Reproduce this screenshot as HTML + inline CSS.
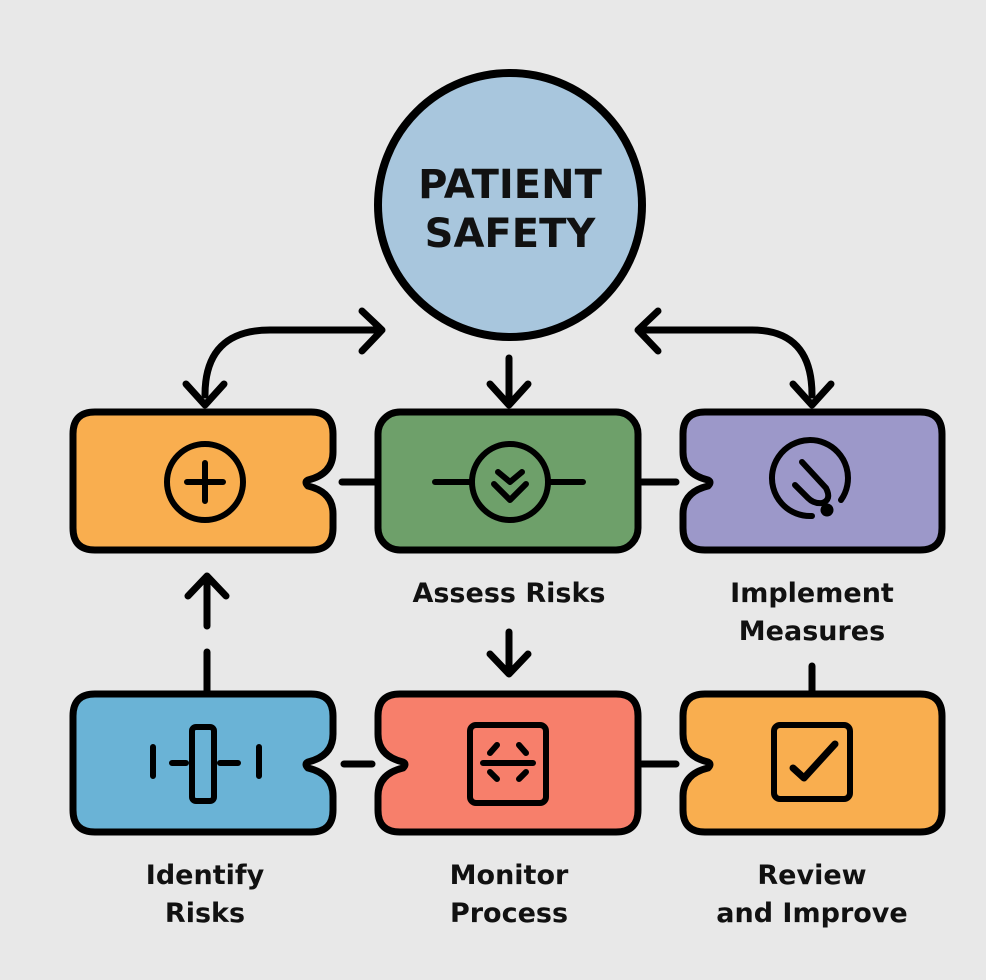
<!DOCTYPE html>
<html><head><meta charset="utf-8"><style>
html,body{margin:0;padding:0;background:#e8e8e8;}
svg{display:block}
text{font-family:"DejaVu Sans","Liberation Sans",sans-serif;font-weight:bold;fill:#111;text-anchor:middle}
</style></head><body>
<svg width="986" height="980" viewBox="0 0 986 980" xmlns="http://www.w3.org/2000/svg">
<rect width="986" height="980" fill="#e8e8e8"/>
<g stroke="#000" stroke-width="7" stroke-linecap="round" stroke-linejoin="round" fill="none">
<circle cx="510" cy="205" r="132" fill="#a8c6dd" stroke-width="8"/>
<path d="M380 330 H270 Q205 330 205 395"/>
<path d="M362 311 L382 330 L362 351"/>
<path d="M186 384 L205 405 L224 384"/>
<path d="M640 330 H752 Q812 330 812 395"/>
<path d="M658 311 L638 330 L658 351"/>
<path d="M793 384 L812 405 L831 384"/>
<path d="M509 358 V403"/>
<path d="M490 384 L509 405 L528 384"/>
<path d="M342 482 H378"/>
<path d="M642 482 H676"/>
<path d="M344 764 H372"/>
<path d="M642 764 H676"/>
<path d="M207 692 V652"/>
<path d="M207 626 V578"/>
<path d="M188 596 L207 576 L226 596"/>
<path d="M509 632 V673"/>
<path d="M490 654 L509 674 L528 654"/>
<path d="M812 666 V692"/>
<path d="M95 412 H311 Q333 412 333 434 V452 Q333 474 308 480 Q304 482 308 486 Q333 492 333 514 V528 Q333 550 311 550 H95 Q73 550 73 528 V434 Q73 412 95 412 Z" fill="#f9ae4f"/>
<rect x="378" y="412" width="260" height="138" rx="22" fill="#6ea06a"/>
<path d="M705 412 H920 Q942 412 942 434 V528 Q942 550 920 550 H705 Q683 550 683 528 V514 Q683 492 708 486 Q712 482 708 480 Q683 474 683 452 V434 Q683 412 705 412 Z" fill="#9c98c9"/>
<path d="M95 694 H311 Q333 694 333 716 V734 Q333 756 308 762 Q304 764 308 768 Q333 774 333 796 V810 Q333 832 311 832 H95 Q73 832 73 810 V716 Q73 694 95 694 Z" fill="#6ab3d6"/>
<path d="M400 694 H616 Q638 694 638 716 V810 Q638 832 616 832 H400 Q378 832 378 810 V796 Q378 774 403 768 Q407 764 403 762 Q378 756 378 734 V716 Q378 694 400 694 Z" fill="#f77f6b"/>
<path d="M705 694 H920 Q942 694 942 716 V810 Q942 832 920 832 H705 Q683 832 683 810 V796 Q683 774 708 768 Q712 764 708 762 Q683 756 683 734 V716 Q683 694 705 694 Z" fill="#f9ae4f"/>
<circle cx="205" cy="482" r="38" stroke-width="6"/>
<path d="M205 463 V501 M187 482 H223" stroke-width="6"/>
<path d="M435 482 H472 M548 482 H583" stroke-width="6"/>
<circle cx="510" cy="482" r="38" stroke-width="6"/>
<path d="M498 472 L510 482 L522 472 M494 484 L510 500 L526 484" stroke-width="6"/>
<path d="M841 500 A38 38 0 1 0 812 516" stroke-width="6"/>
<path d="M802 462 L826 488 Q832 500 822 503 Q814 504 808 498 L795 485" stroke-width="6"/>
<circle cx="827" cy="510" r="3" fill="#000"/>
<path d="M153 747 V776 M259 747 V776 M172 763 H186 M220 763 H238" stroke-width="6"/>
<rect x="192" y="727" width="22" height="74" rx="4" stroke-width="6"/>
<rect x="470" y="725" width="76" height="78" rx="6" stroke-width="6"/>
<path d="M483 763 H533 M490 753 L497 745 M519 745 L526 753 M490 772 L497 779 M519 779 L526 772" stroke-width="6"/>
<rect x="774" y="725" width="76" height="74" rx="6" stroke-width="6"/>
<path d="M793 768 L804 778 L835 744" stroke-width="7"/>
</g>
<text x="510" y="198" font-size="40">PATIENT</text>
<text x="510" y="247" font-size="40">SAFETY</text>
<g font-size="27">
<text x="509" y="602">Assess Risks</text>
<text x="812" y="602">Implement</text>
<text x="812" y="640">Measures</text>
<text x="205" y="884">Identify</text>
<text x="205" y="922">Risks</text>
<text x="509" y="884">Monitor</text>
<text x="509" y="922">Process</text>
<text x="812" y="884">Review</text>
<text x="812" y="922">and Improve</text>
</g>
</svg>
</body></html>
